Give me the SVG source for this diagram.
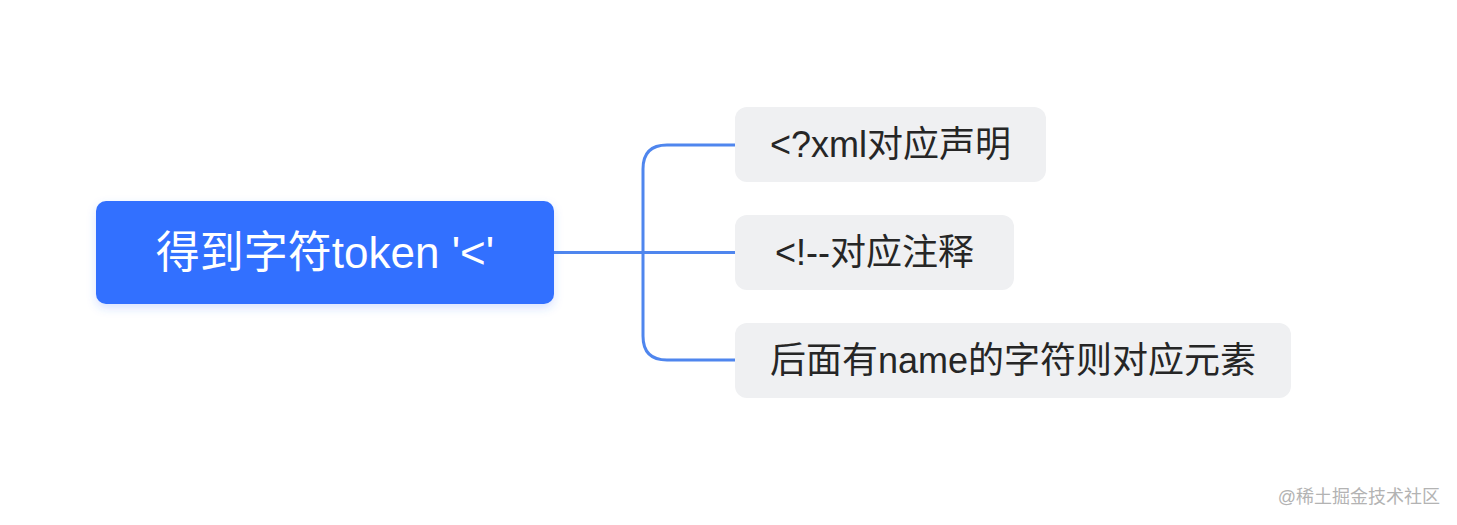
<svg xmlns="http://www.w3.org/2000/svg" width="1457" height="525" viewBox="0 0 1457 525">
<style>
text{font-family:"Liberation Sans","Noto Sans CJK SC",sans-serif;}
.child rect{fill:#eff0f2;}
.child text{fill:#262626;font-size:36px;text-anchor:middle;}
.conn{fill:none;stroke:#4f86ee;stroke-width:3;}
</style>
<defs>
<filter id="sh" x="-10%" y="-20%" width="120%" height="150%">
<feDropShadow dx="0" dy="4" stdDeviation="5" flood-color="#3370ff" flood-opacity="0.2"/>
</filter>
</defs>
<rect width="1457" height="525" fill="#ffffff"/>
<g id="connectors">
<path class="conn" d="M554 252.5 H735"/>
<path class="conn" d="M735 145 H667 Q643 145 643 169 V336 Q643 360 667 360 H735"/>
</g>
<g id="root">
<rect x="96" y="201" width="458" height="103" rx="10" fill="#3370ff" filter="url(#sh)"/>
<text x="325" y="268" fill="#ffffff" font-size="44" text-anchor="middle">得到字符token '&lt;'</text>
</g>
<g id="child1" class="child">
<rect x="735" y="107" width="311" height="75" rx="12"/>
<text x="890.5" y="157">&lt;?xml对应声明</text>
</g>
<g id="child2" class="child">
<rect x="735" y="215" width="279" height="75" rx="12"/>
<text x="874.5" y="265">&lt;!--对应注释</text>
</g>
<g id="child3" class="child">
<rect x="735" y="323" width="556" height="75" rx="12"/>
<text x="1013" y="373">后面有name的字符则对应元素</text>
</g>
<text x="1440" y="503" fill="#b3b3b3" font-size="18" text-anchor="end">@稀土掘金技术社区</text>
</svg>
